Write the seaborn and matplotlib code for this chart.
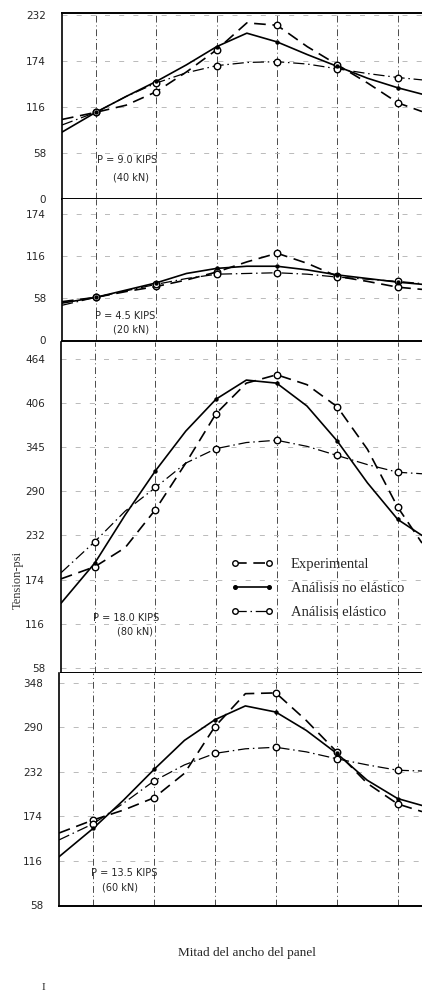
import matplotlib
matplotlib.use("Agg")
import matplotlib.pyplot as plt
import seaborn as sns
import pandas as pd
from matplotlib.lines import Line2D

# ---------------- data ----------------
stations = [1, 2, 3, 4, 5, 6]
xs = [0.44, 1, 1.5, 2, 2.5, 3, 3.5, 4, 4.5, 5, 5.5, 6, 6.4]

# Panel 1: P = 9.0 KIPS
exp1 = [100, 109, 118, 135, 160, 188, 222, 219, 192, 169, 146, 121, 110]
nonel1 = [84, 109, 129, 148, 169, 192, 209, 198, 182, 167, 152, 140, 132]
el1 = [93, 109, 129, 146, 159, 168, 172, 173, 170, 164, 158, 153, 150]

# Panel 2: P = 4.5 KIPS
exp2 = [53, 59, 67, 74, 83, 94, 108, 120, 106, 88, 81, 73, 70]
nonel2 = [51, 59, 69, 79, 92, 99, 102, 102, 97, 90, 85, 80, 77]
el2 = [48, 59, 68, 77, 85, 91, 92, 93, 91, 87, 84, 81, 78]

# Panel 3: P = 18.0 KIPS
exp3 = [175, 191, 216, 266, 327, 392, 432, 443, 430, 401, 345, 269, 222]
nonel3 = [143, 196, 259, 317, 369, 411, 436, 432, 402, 356, 301, 253, 232]
el3 = [183, 224, 264, 295, 327, 346, 354, 357, 349, 337, 325, 315, 313]

# Panel 4: P = 13.5 KIPS
exp4 = [152, 169, 182, 198, 230, 291, 334, 335, 299, 258, 217, 190, 180]
nonel4 = [121, 158, 195, 235, 273, 300, 318, 310, 286, 256, 221, 197, 188]
el4 = [143, 164, 191, 220, 241, 256, 262, 264, 258, 249, 241, 234, 233]

ticks1 = [0, 58, 116, 174, 232]
ticklabels1 = ["0", "58", "116", "174", "232"]
ticks2 = [0, 58, 116, 174]
ticklabels2 = ["0", "58", "116", "174"]
ticks3 = [58, 116, 174, 232, 290, 348, 406, 464]
ticklabels3 = ["58", "116", "174", "232", "290", "345", "406", "464"]
ticks4 = [58, 116, 174, 232, 290, 348]
ticklabels4 = ["58", "116", "174", "232", "290", "348"]

load_labels = [("P = 9.0 KIPS", "(40 kN)"), ("P = 4.5 KIPS", "(20 kN)"),
               ("P = 18.0 KIPS", "(80 kN)"), ("P = 13.5 KIPS", "(60 kN)")]
series_names = ["Experimental", "Análisis no elástico", "Análisis elástico"]

# ---------------- style ----------------
sns.set_style("white")
plt.rcParams['font.family'] = ['DejaVu Sans']

W, H = 422, 994
fig = plt.figure(figsize=(W / 100, H / 100), dpi=100)

def px_axes(left, top, right, bottom):
    return fig.add_axes([left / W, 1 - bottom / H, (right - left) / W, (bottom - top) / H])

panels = [
    dict(box=(62, 13, 422, 199), ylim=(-0.5, 234.5), ticks=ticks1, tl=ticklabels1,
         data=(exp1, nonel1, el1), txt=(97, 160, 113, 177)),
    dict(box=(62, 199, 422, 341), ylim=(-1.4, 195), ticks=ticks2, tl=ticklabels2,
         data=(exp2, nonel2, el2), txt=(95, 316, 113, 329)),
    dict(box=(61, 342, 422, 673), ylim=(51.4, 486), ticks=ticks3, tl=ticklabels3,
         data=(exp3, nonel3, el3), txt=(93, 618, 117, 631)),
    dict(box=(59, 673, 422, 906), ylim=(56.7, 361), ticks=ticks4, tl=ticklabels4,
         data=(exp4, nonel4, el4), txt=(91, 873, 102, 887)),
]

ls_exp = (0, (7, 4))
ls_non = "-"
ls_el = (0, (9, 3, 1.2, 3))

for i, p in enumerate(panels):
    ax = px_axes(*p["box"])
    ax.set_xlim(0.44, 6.4)
    ax.set_ylim(*p["ylim"])
    exp, non, el = p["data"]
    df = pd.DataFrame({"x": xs, "exp": exp, "non": non, "el": el})
    st = df[df["x"].isin(stations)]

    ax.set_xticks(stations)
    ax.set_yticks(p["ticks"])
    ax.set_yticklabels(p["tl"])
    ax.tick_params(axis="x", labelbottom=False, bottom=False)
    ax.tick_params(axis="y", left=False, labelsize=7.5, pad=8)
    ax.grid(axis="x", color="#4a4a4a", lw=0.7, ls=(0, (7, 3, 1, 3)))
    ax.grid(axis="y", color="#b0b0b0", lw=0.6, ls=(0, (6, 11)))

    sns.lineplot(data=df, x="x", y="exp", ax=ax, color="black", lw=1.2,
                 linestyle=ls_exp, estimator=None, sort=False)
    sns.lineplot(data=df, x="x", y="non", ax=ax, color="black", lw=1.2,
                 linestyle=ls_non, estimator=None, sort=False)
    sns.lineplot(data=df, x="x", y="el", ax=ax, color="black", lw=0.9,
                 linestyle=ls_el, estimator=None, sort=False)
    sns.scatterplot(data=st, x="x", y="exp", ax=ax, marker="o", s=22,
                    facecolor="white", edgecolor="black", linewidth=1.0, zorder=5)
    sns.scatterplot(data=st, x="x", y="el", ax=ax, marker="o", s=22,
                    facecolor="white", edgecolor="black", linewidth=1.0, zorder=5)
    sns.scatterplot(data=st, x="x", y="non", ax=ax, marker="o", s=10,
                    color="black", linewidth=0, zorder=6)
    ax.set_xlabel("")
    ax.set_ylabel("")

    ax.spines["right"].set_visible(False)
    ax.spines["top"].set_visible(i == 0)
    for side in ["left", "bottom", "top"]:
        ax.spines[side].set_color("black")
    ax.spines["left"].set_linewidth(1.2)
    ax.spines["bottom"].set_linewidth(1.4)
    ax.spines["top"].set_linewidth(1.4)

    tx1, ty1, tx2, ty2 = p["txt"]
    fig.text(tx1 / W, 1 - ty1 / H, load_labels[i][0], fontsize=7, va="center", ha="left")
    fig.text(tx2 / W, 1 - ty2 / H, load_labels[i][1], fontsize=7, va="center", ha="left")

    if i == 2:
        handles = [
            Line2D([0], [0], color="black", lw=1.2, ls=ls_exp, marker="o", ms=4,
                   mfc="white", mec="black"),
            Line2D([0], [0], color="black", lw=1.2, ls=ls_non, marker="o", ms=2.6,
                   mfc="black", mec="black"),
            Line2D([0], [0], color="black", lw=0.9, ls=ls_el, marker="o", ms=4,
                   mfc="white", mec="black"),
        ]
        fig.legend(handles, series_names, loc="upper left",
                   bbox_to_anchor=(231 / W, 1 - 558 / H), bbox_transform=fig.transFigure,
                   frameon=False, numpoints=2, handlelength=2.9, handletextpad=1.2,
                   labelspacing=0.72, borderpad=0, borderaxespad=0,
                   prop={"family": "Liberation Serif", "size": 10.5})

fig.text(18 / W, 1 - 580 / H, "Tension-psi", rotation=90, ha="center", va="center",
         fontsize=9, family="Liberation Serif", color="#333333")
fig.text(247 / W, 1 - 953 / H, "Mitad del ancho del panel", ha="center", va="center",
         fontsize=9.5, family="Liberation Serif")
fig.text(43 / W, 1 - 987 / H, "I", ha="center", va="center", fontsize=8,
         family="Liberation Serif")

fig.savefig("out.png", dpi=100, facecolor="white")
